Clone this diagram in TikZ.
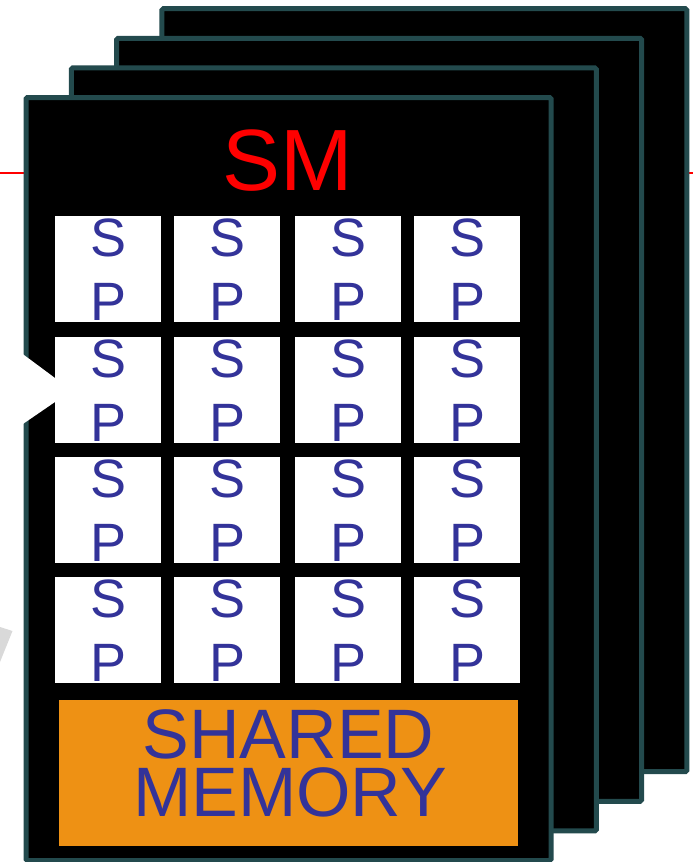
\documentclass[tikz,border=0pt]{standalone}
\usepackage{fontspec}
\setmainfont{Liberation Sans}
\definecolor{smedge}{HTML}{234A4D}
\definecolor{spblue}{HTML}{333399}
\definecolor{memorange}{HTML}{EE9114}
\definecolor{arrowgrey}{HTML}{D9D9D9}
\tikzset{
  smcard/.style={draw=smedge, fill=black, line width=5pt, rounded corners=1.5pt,
    minimum width=525pt, minimum height=763pt, inner sep=0pt},
  spcell/.style={fill=white, minimum width=106pt, minimum height=106pt, inner sep=0pt, anchor=north west},
  splabel/.style={text=spblue, inner sep=0pt, anchor=base, font=\fontsize{54}{54}\selectfont},
  memlabel/.style={text=spblue, inner sep=0pt, anchor=base, font=\fontsize{70}{70}\selectfont},
}
\begin{document}
\begin{tikzpicture}[x=1pt, y=-1pt]
\useasboundingbox (0,0) rectangle (693,862);

% red guide line running behind the stack
\coordinate (redL) at (0,172.7);
\coordinate (redR) at (693,172.7);
\draw[red, line width=2pt] (redL) -- (redR);

% stack of streaming multiprocessors, back to front
\node[smcard] (sm4) at (424.4,390.2) {};
\node[smcard] (sm3) at (379.1,419.8) {};
\node[smcard] (sm2) at (333.8,449.4) {};
\node[smcard] (sm1) at (288.5,479.0) {};

% white arrow tip cutting into the front card
\fill[white] (20,352) -- (55,378) -- (55,402) -- (20,426) -- cycle;
% grey arrow fragment at the left edge
\fill[arrowgrey] (0,627) -- (12.5,631) -- (0,662) -- cycle;

% title
\node[text=red, inner sep=0pt, anchor=base, font=\fontsize{87}{87}\selectfont] (smtitle) at (288,190) {SM};

% 4x4 grid of streaming processors
\foreach \r/\y in {1/216,2/337,3/457,4/577}{
  \foreach \c/\x in {1/55,2/174,3/295,4/414}{
    \node[spcell] (sp\r\c) at (\x,\y) {};
    \node[splabel] (sp\r\c s) at ([yshift=-40pt]sp\r\c.north) {S};
    \node[splabel] (sp\r\c p) at ([yshift=-104pt]sp\r\c.north) {P};
  }
}

% shared memory block
\node[fill=memorange, minimum width=459pt, minimum height=146pt, inner sep=0pt, anchor=north west] (shm) at (59,700) {};
\node[memlabel] (shmA) at (288.5,758) {SHARED};
\node[memlabel] (shmB) at (290,816.5) {MEMORY};
\end{tikzpicture}
\end{document}
